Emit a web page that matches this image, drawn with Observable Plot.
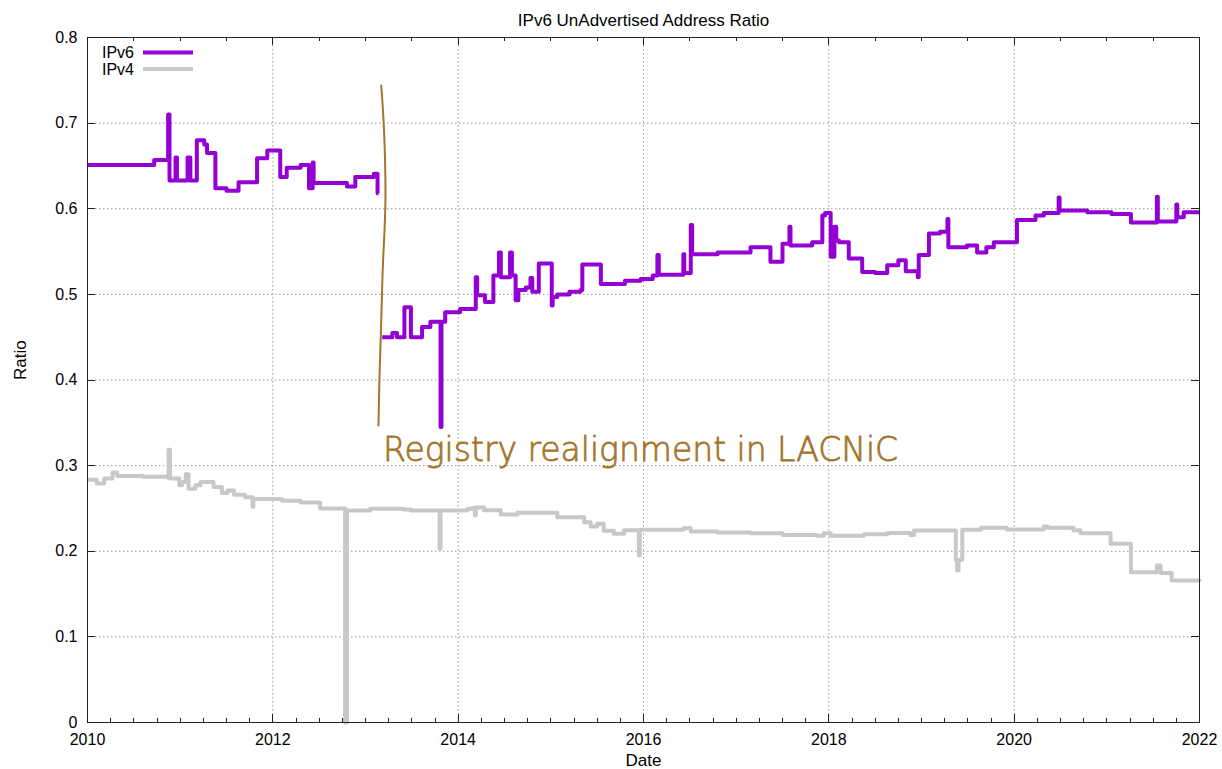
<!DOCTYPE html>
<html><head><meta charset="utf-8">
<script src="https://cdn.jsdelivr.net/npm/d3@7"></script>
<script src="https://cdn.jsdelivr.net/npm/@observablehq/plot@0.6"></script>
<style>body{margin:0;background:#fff} svg{display:block}</style>
</head><body><div id="chart"></div>
<script>
const titleText = "IPv6 UnAdvertised Address Ratio";
const xLabel = "Date";
const yLabel = "Ratio";
const seriesNames = ["IPv6", "IPv4"];
const seriesColors = ["#9400d3", "#c8c8c8"];
const xTickYears = [2010, 2012, 2014, 2016, 2018, 2020, 2022];
const yTickValues = [0, 0.1, 0.2, 0.3, 0.4, 0.5, 0.6, 0.7, 0.8];

const ipv6Year = [2010.00,2010.72,2010.87,2010.885,2010.95,2010.965,2011.08,2011.11,2011.18,2011.26,2011.29,2011.38,2011.50,2011.63,2011.83,2011.94,2012.08,2012.15,2012.30,2012.39,2012.43,2012.44,2012.80,2012.89,2013.09,2013.13,2013.14,
  2013.16,
  2013.18,2013.29,2013.34,2013.42,2013.49,2013.61,2013.70,2013.81,2013.82,2013.86,2014.02,2014.19,2014.205,2014.29,2014.38,2014.44,2014.46,2014.56,2014.58,2014.62,2014.65,2014.73,2014.78,2014.80,2014.87,2015.01,2015.02,2015.07,2015.20,2015.32,2015.34,2015.54,2015.80,2015.97,2016.10,2016.15,2016.165,2016.43,2016.44,2016.51,2016.525,2016.80,2017.155,2017.37,2017.50,2017.575,2017.586,2017.82,2017.93,2017.96,2018.02,2018.06,2018.08,2018.11,2018.215,2018.36,2018.50,2018.63,2018.75,2018.83,2018.96,2018.97,2019.08,2019.20,2019.28,2019.29,2019.49,2019.60,2019.70,2019.78,2020.03,2020.23,2020.32,2020.48,2020.49,2020.79,2021.05,2021.26,2021.54,2021.55,2021.75,2021.76,2021.83,2022.00];
const ipv6Ratio = [0.651,0.657,0.710,0.633,0.660,0.633,0.660,0.633,0.680,0.675,0.665,0.624,0.621,0.631,0.659,0.668,0.637,0.648,0.651,0.624,0.654,0.630,0.626,0.637,0.641,0.618,0.618,
  NaN,
  0.450,0.455,0.450,0.485,0.450,0.462,0.468,0.345,0.468,0.479,0.483,0.520,0.499,0.491,0.522,0.549,0.520,0.549,0.522,0.493,0.505,0.508,0.519,0.503,0.536,0.487,0.497,0.500,0.503,0.505,0.535,0.512,0.516,0.518,0.522,0.546,0.523,0.547,0.525,0.581,0.547,0.549,0.555,0.538,0.559,0.579,0.557,0.561,0.592,0.595,0.544,0.579,0.563,0.561,0.542,0.526,0.525,0.534,0.540,0.527,0.520,0.546,0.571,0.573,0.588,0.555,0.557,0.549,0.555,0.561,0.587,0.592,0.595,0.613,0.598,0.596,0.594,0.584,0.614,0.585,0.605,0.590,0.596,0.596];

const ipv4Year = [2010.00,2010.10,2010.18,2010.27,2010.32,2010.60,2010.86,2010.875,2010.89,2010.99,2011.02,2011.06,2011.09,2011.165,2011.22,2011.36,2011.45,2011.51,2011.58,2011.70,2011.78,2011.79,2012.10,2012.30,2012.51,2012.78,2012.80,2013.05,2013.41,2013.49,2013.80,2013.81,2014.10,2014.15,2014.18,2014.19,2014.28,2014.46,2014.64,2015.07,2015.36,2015.43,2015.50,2015.57,2015.68,2015.79,2015.95,2015.96,2016.43,2016.51,2016.80,2017.155,2017.50,2017.87,2017.945,2018.02,2018.38,2018.63,2018.88,2018.92,2019.37,2019.385,2019.40,2019.44,2019.64,2019.92,2020.32,2020.36,2020.64,2020.715,2021.04,2021.26,2021.54,2021.58,2021.70,2022.00];
const ipv4Ratio = [0.2835,0.279,0.285,0.292,0.288,0.287,0.286,0.3186,0.285,0.277,0.281,0.290,0.273,0.277,0.281,0.275,0.268,0.271,0.266,0.263,0.252,0.261,0.259,0.257,0.250,0.0,0.2477,0.2495,0.2487,0.2477,0.203,0.2477,0.2495,0.2505,0.242,0.251,0.248,0.243,0.245,0.2398,0.234,0.229,0.232,0.224,0.2204,0.2245,0.195,0.225,0.227,0.223,0.222,0.221,0.219,0.218,0.221,0.218,0.220,0.2212,0.219,0.2243,0.190,0.1776,0.190,0.2250,0.2274,0.2255,0.229,0.2274,0.2245,0.221,0.2087,0.1756,0.1834,0.1745,0.1659,0.1647];

const annotationText = "Registry realignment in LACNiC";
const annotationYear = [2013.19];
const annotationRatio = [0.318];
const annotationCurveYear = [2013.17, 2013.20, 2013.215, 2013.19, 2013.17, 2013.15, 2013.14];
const annotationCurveRatio = [0.744, 0.691, 0.610, 0.540, 0.470, 0.400, 0.347];
const annotationColor = "#a5752c";

const ipv6 = ipv6Year.map((d, i) => ({year: d, ratio: ipv6Ratio[i]}));
const ipv4 = ipv4Year.map((d, i) => ({year: d, ratio: ipv4Ratio[i]}));
const annotCurve = annotationCurveYear.map((d, i) => ({year: d, ratio: annotationCurveRatio[i]}));
const annot = annotationYear.map((d, i) => ({year: d, ratio: annotationRatio[i], text: annotationText}));

const font = "'Liberation Sans', Arial, Helvetica, sans-serif";

const plot = Plot.plot({
  width: 1222, height: 769,
  marginLeft: 87, marginRight: 23, marginTop: 37, marginBottom: 47,
  style: {fontFamily: font, fontSize: "16px", background: "#fff", color: "#000"},
  x: {domain: [2010, 2022]},
  y: {domain: [0, 0.8]},
  marks: [
    Plot.gridX({ticks: xTickYears.slice(1, -1), stroke: "#9a9a9a", strokeOpacity: 1, strokeWidth: 1, strokeDasharray: "1.5,2.5"}),
    Plot.gridY({ticks: yTickValues.slice(1, -1), stroke: "#9a9a9a", strokeOpacity: 1, strokeWidth: 1, strokeDasharray: "1.5,2.5"}),
    Plot.line(ipv4, {x: "year", y: "ratio", curve: "step-after", stroke: seriesColors[1], strokeWidth: 4, strokeLinejoin: "round", strokeLinecap: "butt"}),
    Plot.line(ipv6, {x: "year", y: "ratio", curve: "step-after", stroke: seriesColors[0], strokeWidth: 4, strokeLinejoin: "round", strokeLinecap: "butt"}),
    Plot.line(annotCurve, {x: "year", y: "ratio", curve: "natural", stroke: annotationColor, strokeWidth: 2}),
    Plot.text(annot, {x: "year", y: "ratio", text: "text", textAnchor: "start", fill: annotationColor, stroke: annotationColor, strokeWidth: 0.8, fontSize: 34, fontFamily: "'DejaVu Sans', sans-serif", fontWeight: 300}),
    Plot.frame({stroke: "#222", strokeWidth: 1}),
    Plot.axisX({ticks: xTickYears, tickSize: 0, tickPadding: 11, tickFormat: "d", label: null, fontSize: 16}),
    Plot.axisY({ticks: yTickValues, tickSize: 0, tickPadding: 10, tickFormat: d => d === 0 ? "0" : d3.format(".1f")(d), label: null, fontSize: 16}),
    Plot.text([titleText], {text: d => d, frameAnchor: "top", dy: -24, fontSize: 17}),
    Plot.text([xLabel], {text: d => d, frameAnchor: "bottom", dy: 43, fontSize: 17}),
    Plot.text([yLabel], {text: d => d, frameAnchor: "left", dx: -67, rotate: -90, fontSize: 17})
  ]
});
document.getElementById("chart").appendChild(plot);

// inward tick marks and legend (gnuplot style)
const xs = plot.scale("x"), ys = plot.scale("y");
const svg = d3.select(plot);
const g = svg.append("g").attr("stroke", "#222").attr("stroke-width", 1);
const pLeft = xs.apply(2010), pRight = xs.apply(2022), pTop = ys.apply(0.8), pBottom = ys.apply(0);
for (const v of yTickValues) {
  const yy = Math.round(ys.apply(v)) + 0.5;
  g.append("line").attr("x1", pLeft).attr("x2", pLeft + 8).attr("y1", yy).attr("y2", yy);
  g.append("line").attr("x1", pRight).attr("x2", pRight - 8).attr("y1", yy).attr("y2", yy);
}
for (const yr of d3.range(2010, 2022.001, 0.25)) {
  const xx = Math.round(xs.apply(yr)) + 0.5;
  const major = Math.abs(yr / 2 - Math.round(yr / 2)) < 1e-6;
  g.append("line").attr("x1", xx).attr("x2", xx).attr("y1", pBottom).attr("y2", pBottom - (major ? 8 : 4));
  if (major || Math.abs(yr * 2 - Math.round(yr * 2)) < 1e-6)
    g.append("line").attr("x1", xx).attr("x2", xx).attr("y1", pTop).attr("y2", pTop + (major ? 8 : 4));
}
const leg = svg.append("g").attr("font-family", font).attr("font-size", 16);
seriesNames.forEach((name, i) => {
  const cy = pTop + 15.5 + i * 16.5;
  leg.append("text").attr("x", pLeft + 47).attr("y", cy).attr("dy", "0.35em").attr("text-anchor", "end").attr("fill", "#000").text(name);
  leg.append("line").attr("x1", pLeft + 56).attr("x2", pLeft + 106).attr("y1", cy).attr("y2", cy)
    .attr("stroke", seriesColors[i]).attr("stroke-width", 4);
});
// stretch annotation text to hand-drawn width
svg.selectAll("text").filter(function(){ return this.textContent === annotationText; })
  .attr("textLength", 515).attr("lengthAdjust", "spacingAndGlyphs");
</script>
</body></html>
